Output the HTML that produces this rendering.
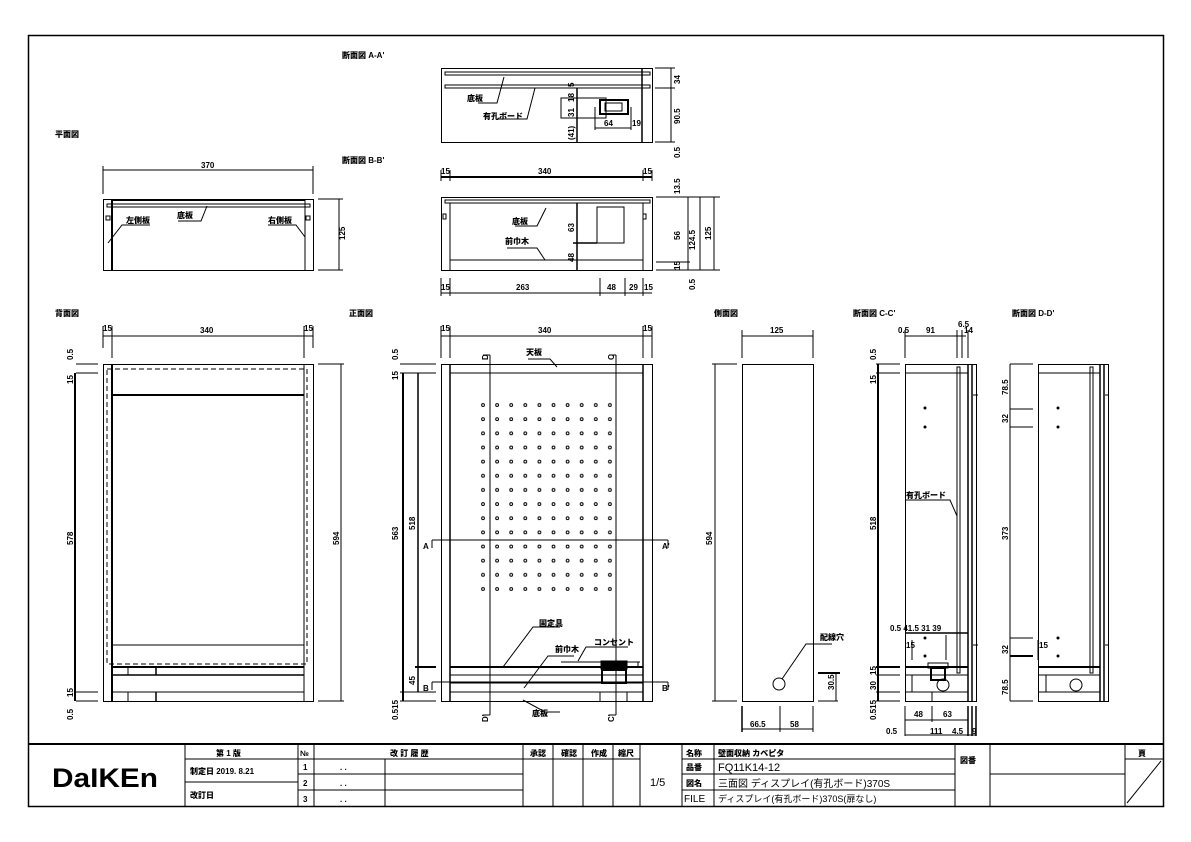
<!DOCTYPE html>
<html><head><meta charset="utf-8"><style>
html,body{margin:0;padding:0;background:#fff}
svg{display:block}
text{font-family:"Liberation Sans","Noto Sans CJK JP",sans-serif;font-size:8px;font-weight:900;fill:#000}
.t{font-size:9px;font-weight:normal}
</style></head><body>
<svg width="1191" height="842" viewBox="0 0 1191 842" xmlns="http://www.w3.org/2000/svg">
<defs>
<pattern id="holes" x="480" y="402" width="14.1" height="14.15" patternUnits="userSpaceOnUse">
<circle cx="3" cy="3" r="1.4" fill="none" stroke="#000" stroke-width="1"/>
</pattern>
</defs>
<g fill="none" stroke="#000" stroke-width="1">
<rect x="28.5" y="35.5" width="1135" height="771" stroke-width="1.5"/>
<line x1="28" y1="744" x2="1163" y2="744" stroke-width="2"/>

<rect x="103.5" y="199.5" width="210" height="71"/>
<line x1="112" y1="200" x2="112" y2="270" stroke-width="2"/>
<line x1="305" y1="200" x2="305" y2="270"/>
<line x1="112" y1="200" x2="305" y2="200" stroke-width="2"/>
<rect x="107" y="204" width="203" height="3"/>
<rect x="106" y="216" width="4" height="4"/><rect x="306" y="216" width="4" height="4"/>
<line x1="103" y1="170" x2="313" y2="170"/><line x1="103" y1="166" x2="103" y2="194"/><line x1="313" y1="166" x2="313" y2="194"/>
<line x1="318" y1="199" x2="343" y2="199"/><line x1="318" y1="270" x2="343" y2="270"/><line x1="339" y1="199" x2="339" y2="270"/>
<polyline points="108,243 122,225 150,225"/><polyline points="305,237 296,225 268,225"/>
<polyline points="207,206 201,221 178,221"/>

<rect x="441.5" y="68.5" width="211" height="74"/>
<rect x="445" y="72" width="205" height="3"/>
<rect x="445" y="85" width="205" height="3"/>
<line x1="458" y1="75" x2="641" y2="75" stroke-dasharray="5,3"/>
<line x1="577" y1="88" x2="577" y2="142" stroke-width="1.5"/>
<line x1="642" y1="68" x2="642" y2="142" stroke-width="1.5"/>
<rect x="561" y="98" width="45" height="20"/>
<rect x="600" y="100" width="28" height="14" stroke-width="2"/>
<rect x="605" y="103" width="17" height="8"/>
<line x1="595" y1="107" x2="595" y2="130"/><line x1="631" y1="107" x2="631" y2="130"/><line x1="595" y1="128" x2="631" y2="128"/>
<line x1="655" y1="68" x2="675" y2="68"/><line x1="655" y1="88" x2="675" y2="88"/><line x1="655" y1="142" x2="675" y2="142"/><line x1="671" y1="68" x2="671" y2="142"/>
<polyline points="504,77 497,103 478,103"/><polyline points="535,88 527,119 497,119"/>

<rect x="441.5" y="197.5" width="211" height="73"/>
<rect x="445" y="200" width="205" height="3"/>
<line x1="450" y1="203" x2="450" y2="270"/><line x1="643" y1="203" x2="643" y2="270"/>
<line x1="450" y1="260" x2="643" y2="260"/>
<line x1="577" y1="203" x2="577" y2="270" stroke-width="1.5"/>
<rect x="597" y="207" width="27" height="36"/>
<line x1="573" y1="243" x2="597" y2="243" stroke-width="1.5"/>
<rect x="443" y="214" width="3" height="5"/><rect x="643" y="214" width="3" height="5"/>
<line x1="441" y1="177" x2="652" y2="177" stroke-width="2"/>
<line x1="441" y1="170" x2="441" y2="181"/><line x1="450" y1="170" x2="450" y2="181"/><line x1="643" y1="170" x2="643" y2="181"/><line x1="652" y1="170" x2="652" y2="181"/>
<line x1="441" y1="293" x2="652" y2="293"/>
<line x1="441" y1="278" x2="441" y2="296"/><line x1="450" y1="278" x2="450" y2="296"/><line x1="600" y1="278" x2="600" y2="296"/><line x1="625" y1="278" x2="625" y2="296"/><line x1="643" y1="278" x2="643" y2="296"/>
<line x1="656" y1="197" x2="720" y2="197"/><line x1="656" y1="262" x2="690" y2="262"/><line x1="656" y1="270" x2="720" y2="270"/>
<line x1="688" y1="197" x2="688" y2="270"/><line x1="700" y1="197" x2="700" y2="270"/><line x1="714" y1="197" x2="714" y2="270"/>
<polyline points="546,208 537,226 515,226"/><polyline points="545,260 537,248 507,248"/>

<rect x="103.5" y="364.5" width="210" height="337"/>
<line x1="112" y1="364" x2="112" y2="701" stroke-width="2"/>
<line x1="304" y1="364" x2="304" y2="701"/>
<rect x="107" y="369" width="200" height="295" stroke-dasharray="5,3"/>
<line x1="112" y1="395" x2="304" y2="395" stroke-width="2"/>
<line x1="112" y1="645" x2="304" y2="645"/>
<line x1="112" y1="667" x2="304" y2="667" stroke-width="2"/>
<line x1="112" y1="675" x2="304" y2="675" stroke-width="1.5"/>
<line x1="112" y1="692" x2="304" y2="692"/>
<line x1="128" y1="667" x2="128" y2="675"/><line x1="156" y1="667" x2="156" y2="675" stroke-width="1.5"/>
<line x1="128" y1="692" x2="128" y2="701"/><line x1="156" y1="692" x2="156" y2="701" stroke-width="1.5"/>
<line x1="103" y1="336" x2="313" y2="336"/>
<line x1="103" y1="326" x2="103" y2="348"/><line x1="112" y1="326" x2="112" y2="358"/><line x1="304" y1="326" x2="304" y2="358"/><line x1="313" y1="326" x2="313" y2="348"/>
<line x1="76" y1="364" x2="98" y2="364"/><line x1="76" y1="373" x2="98" y2="373"/><line x1="76" y1="692" x2="98" y2="692"/><line x1="76" y1="701" x2="98" y2="701"/>
<line x1="75" y1="373" x2="75" y2="701" stroke-width="2"/>
<line x1="318" y1="364" x2="344" y2="364"/><line x1="318" y1="701" x2="344" y2="701"/><line x1="341" y1="364" x2="341" y2="701"/>

<rect x="441.5" y="364.5" width="211" height="337"/>
<line x1="450" y1="364" x2="450" y2="701" stroke-width="1.5"/>
<line x1="643" y1="364" x2="643" y2="701" stroke-width="1.5"/>
<line x1="450" y1="373" x2="643" y2="373"/>
<line x1="450" y1="667" x2="643" y2="667" stroke-width="2"/>
<line x1="450" y1="675" x2="643" y2="675"/><line x1="450" y1="683" x2="643" y2="683"/><line x1="450" y1="692" x2="643" y2="692"/>
<line x1="600" y1="692" x2="600" y2="701"/><line x1="627" y1="692" x2="627" y2="701"/>
<rect x="601" y="661" width="26" height="8" fill="#000"/>
<rect x="602" y="670" width="24" height="13" stroke-width="2"/>
<line x1="561" y1="662" x2="640" y2="662"/><line x1="638" y1="662" x2="638" y2="667"/>
<line x1="490" y1="355" x2="490" y2="715"/><line x1="616" y1="355" x2="616" y2="715"/>
<line x1="483" y1="355" x2="490" y2="355"/><line x1="609" y1="355" x2="616" y2="355"/>
<line x1="483" y1="715" x2="490" y2="715"/><line x1="609" y1="715" x2="616" y2="715"/>
<line x1="432" y1="540" x2="668" y2="540"/><line x1="432" y1="682" x2="668" y2="682"/>
<line x1="432" y1="540" x2="432" y2="548"/><line x1="668" y1="540" x2="668" y2="548"/>
<line x1="432" y1="682" x2="432" y2="690"/><line x1="668" y1="682" x2="668" y2="690"/>
<line x1="441" y1="336" x2="652" y2="336"/>
<line x1="441" y1="326" x2="441" y2="358"/><line x1="450" y1="326" x2="450" y2="358"/><line x1="643" y1="326" x2="643" y2="358"/><line x1="652" y1="326" x2="652" y2="358"/>
<line x1="400" y1="364" x2="436" y2="364"/><line x1="400" y1="373" x2="436" y2="373"/><line x1="400" y1="692" x2="436" y2="692"/><line x1="400" y1="701" x2="436" y2="701"/>
<line x1="403" y1="373" x2="403" y2="701" stroke-width="2"/>
<line x1="418" y1="373" x2="418" y2="692" stroke-width="1.5"/>
<line x1="415" y1="667" x2="436" y2="667" stroke-width="2"/>
<polyline points="557,367 550,359 528,359"/>
<polyline points="503,667 533,627 560,627"/>
<polyline points="524,688 548,656 574,656"/>
<polyline points="578,661 586,647 628,647"/>
<polyline points="523,700 545,712 560,712"/>

<rect x="742.5" y="364.5" width="71" height="337"/>
<circle cx="779" cy="684" r="6"/>
<polyline points="782,679 806,644 832,644"/>
<line x1="742" y1="336" x2="813" y2="336"/><line x1="742" y1="330" x2="742" y2="358"/><line x1="813" y1="330" x2="813" y2="358"/>
<line x1="712" y1="364" x2="737" y2="364"/><line x1="712" y1="701" x2="737" y2="701"/><line x1="715" y1="364" x2="715" y2="701"/>
<line x1="818" y1="673" x2="840" y2="673" stroke-width="2"/><line x1="818" y1="701" x2="838" y2="701"/><line x1="836" y1="673" x2="836" y2="701"/>
<line x1="742" y1="706" x2="742" y2="732" stroke-width="1.5"/><line x1="780" y1="706" x2="780" y2="732"/><line x1="813" y1="706" x2="813" y2="732"/><line x1="742" y1="729" x2="813" y2="729"/>

<rect x="905.5" y="364.5" width="71" height="337"/>
<line x1="968" y1="364" x2="968" y2="701" stroke-width="1.5"/>
<line x1="972" y1="364" x2="972" y2="701" stroke-width="1.5"/>
<line x1="905" y1="373" x2="968" y2="373"/>
<rect x="957" y="367" width="3" height="306"/>
<line x1="905" y1="667" x2="968" y2="667" stroke-width="2"/>
<line x1="905" y1="675" x2="968" y2="675"/><line x1="905" y1="692" x2="968" y2="692"/>
<line x1="912" y1="675" x2="912" y2="692"/><line x1="932" y1="692" x2="932" y2="701"/>
<line x1="905" y1="633" x2="968" y2="633" stroke-width="1.5"/>
<line x1="912" y1="640" x2="912" y2="660"/><line x1="946" y1="635" x2="946" y2="660"/>
<rect x="928" y="663" width="20" height="5"/>
<rect x="931" y="668" width="14" height="12" stroke-width="2"/>
<circle cx="943" cy="685" r="6"/>
<circle cx="925" cy="408" r="1" fill="#000"/><circle cx="925" cy="427" r="1" fill="#000"/>
<circle cx="925" cy="638" r="1" fill="#000"/><circle cx="925" cy="656" r="1" fill="#000"/>
<line x1="973" y1="395" x2="978" y2="395"/><line x1="973" y1="645" x2="978" y2="645"/>
<polyline points="906,500 950,500 957,516"/>
<line x1="905" y1="336" x2="966" y2="336"/>
<line x1="905" y1="330" x2="905" y2="358"/><line x1="957" y1="330" x2="957" y2="358"/><line x1="962" y1="330" x2="962" y2="358"/><line x1="968" y1="330" x2="968" y2="358"/>
<line x1="876" y1="364" x2="900" y2="364"/><line x1="876" y1="373" x2="900" y2="373"/><line x1="876" y1="667" x2="900" y2="667" stroke-width="2"/>
<line x1="876" y1="675" x2="900" y2="675"/><line x1="876" y1="692" x2="900" y2="692"/><line x1="876" y1="701" x2="900" y2="701"/>
<line x1="878" y1="364" x2="878" y2="701" stroke-width="2"/>
<line x1="905" y1="706" x2="905" y2="736"/><line x1="932" y1="706" x2="932" y2="722"/>
<line x1="968" y1="706" x2="968" y2="736" stroke-width="1.5"/><line x1="972" y1="706" x2="972" y2="736" stroke-width="1.5"/><line x1="976" y1="706" x2="976" y2="736" stroke-width="1.5"/>
<line x1="905" y1="720" x2="968" y2="720"/><line x1="905" y1="735" x2="976" y2="735"/>

<rect x="1038.5" y="364.5" width="70" height="337"/>
<line x1="1100" y1="364" x2="1100" y2="701" stroke-width="1.5"/>
<line x1="1104" y1="364" x2="1104" y2="701" stroke-width="1.5"/>
<line x1="1038" y1="373" x2="1100" y2="373"/>
<rect x="1090" y="367" width="3" height="306"/>
<line x1="1038" y1="667" x2="1100" y2="667" stroke-width="2"/>
<line x1="1038" y1="675" x2="1100" y2="675"/><line x1="1038" y1="692" x2="1100" y2="692"/>
<line x1="1046" y1="675" x2="1046" y2="692"/>
<circle cx="1076" cy="685" r="6"/>
<circle cx="1058" cy="408" r="1" fill="#000"/><circle cx="1058" cy="427" r="1" fill="#000"/>
<circle cx="1058" cy="638" r="1" fill="#000"/><circle cx="1058" cy="656" r="1" fill="#000"/>
<line x1="1105" y1="395" x2="1109" y2="395"/><line x1="1105" y1="645" x2="1109" y2="645"/>
<line x1="1010" y1="364" x2="1033" y2="364"/><line x1="1010" y1="409" x2="1033" y2="409"/><line x1="1010" y1="427" x2="1033" y2="427"/>
<line x1="1010" y1="638" x2="1033" y2="638"/><line x1="1010" y1="656" x2="1033" y2="656" stroke-width="2"/><line x1="1010" y1="701" x2="1033" y2="701"/>
<line x1="1010" y1="364" x2="1010" y2="701"/>
<line x1="1038" y1="640" x2="1038" y2="660"/>

<line x1="185" y1="744" x2="185" y2="806"/>
<line x1="298" y1="744" x2="298" y2="806"/>
<line x1="314" y1="744" x2="314" y2="806"/>
<line x1="385" y1="759" x2="385" y2="806"/>
<line x1="523" y1="744" x2="523" y2="806"/>
<line x1="553" y1="744" x2="553" y2="806"/>
<line x1="583" y1="744" x2="583" y2="806"/>
<line x1="613" y1="744" x2="613" y2="806"/>
<line x1="640" y1="744" x2="640" y2="806"/>
<line x1="682" y1="744" x2="682" y2="806"/>
<line x1="714" y1="744" x2="714" y2="806"/>
<line x1="955" y1="744" x2="955" y2="806"/>
<line x1="990" y1="744" x2="990" y2="806"/>
<line x1="1125" y1="744" x2="1125" y2="806"/>
<line x1="185" y1="759" x2="640" y2="759"/>
<line x1="682" y1="759" x2="955" y2="759"/>
<line x1="1125" y1="759" x2="1163" y2="759"/>
<line x1="185" y1="782" x2="298" y2="782"/>
<line x1="298" y1="774" x2="523" y2="774"/>
<line x1="298" y1="790" x2="523" y2="790"/>
<line x1="682" y1="774" x2="955" y2="774"/>
<line x1="682" y1="790" x2="955" y2="790"/>
<line x1="990" y1="774" x2="1125" y2="774"/>
<line x1="1127" y1="803" x2="1161" y2="761"/>
</g>
<rect x="480" y="402" width="141" height="198" fill="url(#holes)"/>

<text x="342" y="58">断面図 A-A'</text>
<text x="342" y="163">断面図 B-B'</text>
<text x="55" y="137">平面図</text>
<text x="55" y="316">背面図</text>
<text x="349" y="316">正面図</text>
<text x="714" y="316">側面図</text>
<text x="853" y="316">断面図 C-C'</text>
<text x="1012" y="316">断面図 D-D'</text>

<text x="201" y="168">370</text>
<text x="126" y="223">左側板</text><text x="177" y="218">底板</text><text x="268" y="223">右側板</text>
<text transform="translate(345,240) rotate(-90)">125</text>

<text x="467" y="101">底板</text><text x="483" y="119">有孔ボード</text>
<text x="604" y="126">64</text><text x="632" y="126">19</text>
<text transform="translate(574,87) rotate(-90)">5</text>
<text transform="translate(574,102) rotate(-90)">18</text>
<text transform="translate(574,117) rotate(-90)">31</text>
<text transform="translate(574,140) rotate(-90)">(41)</text>
<text transform="translate(680,84) rotate(-90)">34</text>
<text transform="translate(680,124) rotate(-90)">90.5</text>
<text transform="translate(680,158) rotate(-90)">0.5</text>

<text x="441" y="174">15</text><text x="538" y="174">340</text><text x="643" y="174">15</text>
<text x="512" y="224">底板</text><text x="505" y="244">前巾木</text>
<text transform="translate(574,232) rotate(-90)">63</text>
<text transform="translate(574,262) rotate(-90)">48</text>
<text transform="translate(680,194) rotate(-90)">13.5</text>
<text transform="translate(680,240) rotate(-90)">56</text>
<text transform="translate(680,270) rotate(-90)">15</text>
<text transform="translate(695,290) rotate(-90)">0.5</text>
<text transform="translate(695,250) rotate(-90)">124.5</text>
<text transform="translate(711,240) rotate(-90)">125</text>
<text x="441" y="290">15</text><text x="516" y="290">263</text><text x="607" y="290">48</text><text x="629" y="290">29</text><text x="644" y="290">15</text>

<text x="103" y="331">15</text><text x="200" y="333">340</text><text x="304" y="331">15</text>
<text transform="translate(73,360) rotate(-90)">0.5</text>
<text transform="translate(73,384) rotate(-90)">15</text>
<text transform="translate(73,545) rotate(-90)">578</text>
<text transform="translate(73,697) rotate(-90)">15</text>
<text transform="translate(73,720) rotate(-90)">0.5</text>
<text transform="translate(339,545) rotate(-90)">594</text>

<text x="441" y="331">15</text><text x="538" y="333">340</text><text x="643" y="331">15</text>
<text x="526" y="355">天板</text>
<text x="539" y="626">固定具</text><text x="555" y="652">前巾木</text><text x="594" y="645">コンセント</text><text x="532" y="716">底板</text>
<text transform="translate(488,360) rotate(-90)">D</text><text transform="translate(614,360) rotate(-90)">C</text>
<text transform="translate(488,722) rotate(-90)">D'</text><text transform="translate(614,722) rotate(-90)">C'</text>
<text x="423" y="549">A</text><text x="662" y="549">A'</text>
<text x="423" y="691">B</text><text x="662" y="691">B'</text>
<text transform="translate(398,360) rotate(-90)">0.5</text>
<text transform="translate(398,380) rotate(-90)">15</text>
<text transform="translate(398,540) rotate(-90)">563</text>
<text transform="translate(415,530) rotate(-90)">518</text>
<text transform="translate(415,685) rotate(-90)">45</text>
<text transform="translate(398,720) rotate(-90)">0.515</text>

<text x="770" y="333">125</text>
<text transform="translate(712,545) rotate(-90)">594</text>
<text x="820" y="640">配線穴</text>
<text transform="translate(834,690) rotate(-90)">30.5</text>
<text x="750" y="727">66.5</text><text x="790" y="727">58</text>

<text x="898" y="333">0.5</text><text x="926" y="333">91</text><text x="958" y="327">6.5</text><text x="964" y="333">14</text>
<text transform="translate(876,360) rotate(-90)">0.5</text>
<text transform="translate(876,384) rotate(-90)">15</text>
<text transform="translate(876,530) rotate(-90)">518</text>
<text x="906" y="498">有孔ボード</text>
<text x="890" y="631">0.5 41.5 31  39</text>
<text x="906" y="648">15</text>
<text transform="translate(876,675) rotate(-90)">15</text>
<text transform="translate(876,690) rotate(-90)">30</text>
<text transform="translate(876,720) rotate(-90)">0.515</text>
<text x="914" y="717">48</text><text x="943" y="717">63</text>
<text x="886" y="734">0.5</text><text x="930" y="734">111</text><text x="952" y="734">4.5</text><text x="972" y="734">9</text>

<text transform="translate(1008,395) rotate(-90)">78.5</text>
<text transform="translate(1008,423) rotate(-90)">32</text>
<text transform="translate(1008,540) rotate(-90)">373</text>
<text x="1039" y="648">15</text>
<text transform="translate(1008,654) rotate(-90)">32</text>
<text transform="translate(1008,695) rotate(-90)">78.5</text>

<text x="52" y="787" textLength="106" lengthAdjust="spacingAndGlyphs" style="font-size:27px;font-weight:bold">DaIKEn</text>
<text x="216" y="756">第 1 版</text>
<text x="300" y="756">№</text>
<text x="390" y="756">改 訂 履 歴</text>
<text x="530" y="756">承認</text><text x="561" y="756">確認</text><text x="591" y="756">作成</text><text x="618" y="756">縮尺</text>
<text x="686" y="756">名称</text><text x="718" y="756">壁面収納 カベピタ</text>
<text x="190" y="774">制定日 2019. 8.21</text>
<text x="190" y="798">改訂日</text>
<text x="303" y="770">1</text><text x="303" y="786">2</text><text x="303" y="802">3</text>
<text x="340" y="770">. .</text><text x="340" y="786">. .</text><text x="340" y="802">. .</text>
<text x="650" y="786" class="t" style="font-size:11px">1/5</text>
<text x="686" y="770">品番</text><text x="718" y="771" class="t" style="font-size:11px">FQ11K14-12</text>
<text x="686" y="786">図名</text><text x="718" y="787" class="t" style="font-size:10px">三面図 ディスプレイ(有孔ボード)370S</text>
<text x="684" y="802" class="t" style="font-size:10px">FILE</text><text x="718" y="802" class="t">ディスプレイ(有孔ボード)370S(扉なし)</text>
<text x="960" y="763">図番</text>
<text x="1138" y="756">頁</text>
</svg>
</body></html>
